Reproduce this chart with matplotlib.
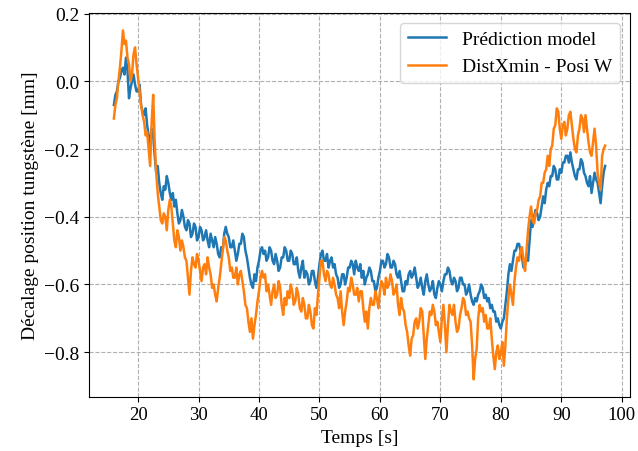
import numpy as np
import matplotlib
matplotlib.use("Agg")
import matplotlib.pyplot as plt

plt.rcParams['font.family'] = ['Liberation Serif', 'DejaVu Serif']
plt.rcParams['font.size'] = 14

# temps (s), pas de 0.25 s de 16 à 97.25
temps = [16.0 + 0.25 * i for i in range(326)]

prediction = [
    -0.07, -0.04, -0.03, 0.00, 0.01, 0.03, 0.04, 0.02, 0.07, 0.03, -0.05, -0.02, 0.00, 0.02, -0.01, -0.03, -0.03, -0.01, -0.07, -0.09,
    -0.10, -0.08, -0.13, -0.16, -0.19, -0.14, -0.16, -0.22, -0.27, -0.25, -0.30, -0.33, -0.35, -0.31, -0.32, -0.28, -0.30, -0.33, -0.35, -0.33,
    -0.37, -0.35, -0.39, -0.42, -0.41, -0.38, -0.40, -0.43, -0.44, -0.41, -0.42, -0.46, -0.45, -0.42, -0.43, -0.47, -0.46, -0.43, -0.44, -0.47,
    -0.46, -0.44, -0.47, -0.49, -0.45, -0.47, -0.49, -0.46, -0.48, -0.51, -0.52, -0.49, -0.50, -0.45, -0.43, -0.45, -0.46, -0.49, -0.49, -0.47,
    -0.50, -0.53, -0.51, -0.48, -0.48, -0.45, -0.46, -0.50, -0.52, -0.55, -0.58, -0.60, -0.61, -0.57, -0.59, -0.55, -0.53, -0.50, -0.49, -0.51,
    -0.50, -0.53, -0.52, -0.49, -0.50, -0.53, -0.54, -0.51, -0.53, -0.56, -0.55, -0.52, -0.52, -0.49, -0.50, -0.53, -0.53, -0.50, -0.51, -0.54,
    -0.54, -0.52, -0.56, -0.58, -0.55, -0.53, -0.58, -0.56, -0.57, -0.60, -0.59, -0.56, -0.56, -0.59, -0.61, -0.58, -0.54, -0.51, -0.50, -0.53,
    -0.53, -0.51, -0.55, -0.53, -0.52, -0.55, -0.54, -0.57, -0.58, -0.61, -0.60, -0.57, -0.57, -0.60, -0.58, -0.55, -0.55, -0.53, -0.54, -0.57,
    -0.53, -0.55, -0.56, -0.54, -0.58, -0.56, -0.60, -0.58, -0.57, -0.55, -0.56, -0.59, -0.59, -0.62, -0.61, -0.58, -0.56, -0.53, -0.53, -0.55,
    -0.54, -0.51, -0.52, -0.55, -0.55, -0.53, -0.54, -0.57, -0.58, -0.56, -0.59, -0.62, -0.62, -0.59, -0.60, -0.57, -0.56, -0.58, -0.57, -0.55,
    -0.58, -0.61, -0.60, -0.58, -0.61, -0.63, -0.59, -0.57, -0.60, -0.62, -0.61, -0.59, -0.63, -0.64, -0.61, -0.59, -0.60, -0.62, -0.59, -0.57,
    -0.57, -0.55, -0.56, -0.59, -0.60, -0.58, -0.59, -0.62, -0.61, -0.58, -0.58, -0.60, -0.60, -0.63, -0.62, -0.60, -0.63, -0.65, -0.66, -0.64,
    -0.65, -0.63, -0.62, -0.60, -0.61, -0.64, -0.63, -0.65, -0.64, -0.67, -0.66, -0.68, -0.68, -0.71, -0.70, -0.72, -0.73, -0.71, -0.70, -0.66,
    -0.62, -0.57, -0.54, -0.56, -0.53, -0.50, -0.50, -0.48, -0.48, -0.50, -0.52, -0.55, -0.54, -0.51, -0.53, -0.47, -0.41, -0.43, -0.40, -0.38,
    -0.39, -0.41, -0.40, -0.37, -0.34, -0.36, -0.32, -0.30, -0.31, -0.28, -0.28, -0.25, -0.26, -0.29, -0.29, -0.26, -0.27, -0.24, -0.24, -0.22,
    -0.22, -0.24, -0.21, -0.24, -0.26, -0.28, -0.29, -0.26, -0.26, -0.23, -0.24, -0.27, -0.28, -0.30, -0.31, -0.28, -0.33, -0.30, -0.27, -0.29,
    -0.30, -0.33, -0.36, -0.31, -0.27, -0.25,
]

distxmin = [
    -0.11, -0.07, -0.05, 0.00, 0.04, 0.09, 0.15, 0.11, 0.12, 0.07, 0.05, 0.00, 0.02, 0.08, 0.10, 0.05, 0.01, -0.03, -0.07, -0.10,
    -0.12, -0.16, -0.15, -0.20, -0.25, -0.12, -0.04, -0.18, -0.27, -0.33, -0.37, -0.41, -0.42, -0.39, -0.40, -0.44, -0.38, -0.35, -0.37, -0.42,
    -0.47, -0.49, -0.44, -0.46, -0.50, -0.47, -0.49, -0.52, -0.53, -0.58, -0.63, -0.56, -0.52, -0.54, -0.55, -0.51, -0.53, -0.56, -0.59, -0.55,
    -0.54, -0.57, -0.52, -0.55, -0.57, -0.61, -0.60, -0.63, -0.65, -0.61, -0.58, -0.54, -0.50, -0.46, -0.47, -0.50, -0.52, -0.56, -0.55, -0.58,
    -0.58, -0.55, -0.60, -0.57, -0.56, -0.59, -0.62, -0.66, -0.67, -0.71, -0.74, -0.70, -0.76, -0.72, -0.69, -0.65, -0.62, -0.58, -0.56, -0.58,
    -0.57, -0.62, -0.60, -0.63, -0.66, -0.62, -0.60, -0.64, -0.63, -0.59, -0.61, -0.66, -0.69, -0.64, -0.66, -0.62, -0.64, -0.60, -0.62, -0.66,
    -0.65, -0.61, -0.63, -0.67, -0.68, -0.64, -0.66, -0.70, -0.70, -0.66, -0.68, -0.72, -0.73, -0.67, -0.69, -0.63, -0.58, -0.53, -0.53, -0.57,
    -0.59, -0.56, -0.57, -0.60, -0.61, -0.58, -0.60, -0.63, -0.64, -0.67, -0.62, -0.68, -0.72, -0.68, -0.65, -0.61, -0.62, -0.58, -0.60, -0.63,
    -0.63, -0.61, -0.65, -0.62, -0.62, -0.67, -0.71, -0.68, -0.73, -0.67, -0.64, -0.66, -0.66, -0.62, -0.64, -0.67, -0.62, -0.59, -0.60, -0.63,
    -0.58, -0.61, -0.60, -0.57, -0.59, -0.63, -0.62, -0.60, -0.66, -0.69, -0.64, -0.67, -0.68, -0.72, -0.74, -0.78, -0.81, -0.76, -0.75, -0.71,
    -0.70, -0.73, -0.71, -0.67, -0.68, -0.75, -0.82, -0.76, -0.72, -0.68, -0.69, -0.66, -0.68, -0.72, -0.71, -0.74, -0.77, -0.70, -0.66, -0.72,
    -0.80, -0.72, -0.66, -0.68, -0.69, -0.66, -0.71, -0.74, -0.73, -0.69, -0.67, -0.64, -0.65, -0.69, -0.68, -0.70, -0.71, -0.78, -0.88, -0.82,
    -0.79, -0.70, -0.66, -0.68, -0.67, -0.71, -0.69, -0.73, -0.73, -0.70, -0.76, -0.81, -0.85, -0.80, -0.78, -0.82, -0.80, -0.77, -0.84, -0.78,
    -0.70, -0.64, -0.60, -0.63, -0.66, -0.59, -0.55, -0.52, -0.53, -0.50, -0.49, -0.53, -0.56, -0.50, -0.44, -0.40, -0.37, -0.41, -0.42, -0.39,
    -0.38, -0.35, -0.34, -0.30, -0.30, -0.27, -0.26, -0.22, -0.25, -0.20, -0.19, -0.14, -0.13, -0.08, -0.09, -0.14, -0.17, -0.13, -0.12, -0.16,
    -0.14, -0.10, -0.09, -0.13, -0.17, -0.20, -0.21, -0.16, -0.14, -0.10, -0.11, -0.15, -0.10, -0.14, -0.18, -0.21, -0.22, -0.18, -0.14, -0.19,
    -0.27, -0.30, -0.32, -0.22, -0.20, -0.19,
]

fig, ax = plt.subplots(figsize=(6.38, 4.52), dpi=100)
fig.subplots_adjust(left=0.14, right=0.987, bottom=0.12, top=0.969)

ax.plot(temps, prediction, color='tab:blue', linewidth=1.8, label='Prédiction model')
ax.plot(temps, distxmin, color='tab:orange', linewidth=1.8, label='DistXmin - Posi W')

ax.set_xlabel('Temps [s]')
ax.set_ylabel('Décalage position tungstène [mm]')
ax.set_xticks([20, 30, 40, 50, 60, 70, 80, 90, 100])
ax.set_yticks([0.2, 0.0, -0.2, -0.4, -0.6, -0.8])
ax.tick_params(axis='x', labelsize=13.5)
ax.grid(True, linestyle='--', color='#b0b0b0')
ax.legend(loc='upper right')

fig.savefig('out.png', dpi=100)
